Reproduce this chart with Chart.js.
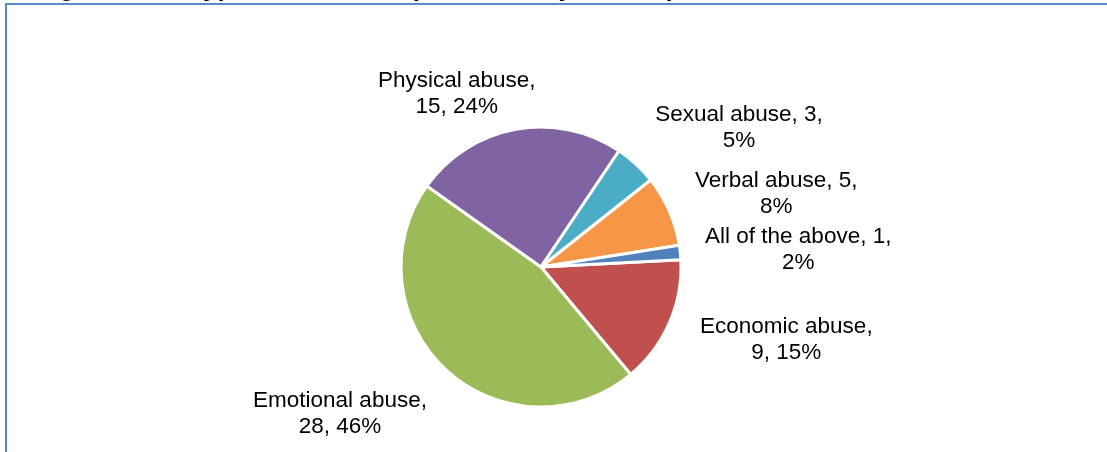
<!DOCTYPE html>
<html>
<head>
<meta charset="utf-8">
<title>Types of abuse</title>
<script src="https://cdn.jsdelivr.net/npm/chart.js@4"></script>
<style>
  html, body { margin: 0; padding: 0; background: #fff; }
  #wrap { width: 1107px; height: 452px; position: relative; }
</style>
</head>
<body>
<div id="wrap"><canvas id="abuseChart"></canvas></div>
<script>
// Abuse categories (in drawing order, clockwise from 3 o'clock)
const categories = ['Economic abuse', 'Emotional abuse', 'Physical abuse', 'Sexual abuse', 'Verbal abuse', 'All of the above'];
const counts = [9, 28, 15, 3, 5, 1];
const percents = [15, 46, 24, 5, 8, 2];

const sliceColors = ['#C0504D', '#9BBB59', '#8064A2', '#4BACC6', '#F79646', '#4F81BD'];

// how many comma parts go on the first label line
const firstLineParts = [1, 1, 1, 2, 2, 2];
// label shift from the slice's outer mid point
const labelNudge = [[117, 17], [-106, 44], [-59, -35], [103, -36], [107, -17], [118, -3]];

const labelFont = '22.5px "Liberation Sans", Arial, sans-serif';

// Data labels + frame + clipped caption
const decorPlugin = {
  id: 'decor',
  afterDraw(chart) {
    const ctx = chart.ctx;
    const arcs = chart.getDatasetMeta(0).data;

    ctx.save();
    ctx.font = labelFont;
    ctx.fillStyle = '#000';
    ctx.textAlign = 'center';
    ctx.textBaseline = 'middle';
    arcs.forEach((arc, i) => {
      const mid = (arc.startAngle + arc.endAngle) / 2;
      const x = arc.x + Math.cos(mid) * arc.outerRadius + labelNudge[i][0];
      const y = arc.y + Math.sin(mid) * arc.outerRadius + labelNudge[i][1];
      const parts = [categories[i], String(counts[i]), percents[i] + '%'];
      const n = firstLineParts[i];
      const line1 = parts.slice(0, n).join(', ') + ',';
      const line2 = parts.slice(n).join(', ');
      ctx.fillText(line1, x, y - 13);
      ctx.fillText(line2, x, y + 13);
    });

    // caption above the frame, mostly cut off by the top edge
    ctx.font = 'bold 26px "Liberation Sans", Arial, sans-serif';
    ctx.textAlign = 'left';
    ctx.textBaseline = 'alphabetic';
    ctx.fillText('Figure 4.10: Types of abuse experienced by the respondents', 36, -4);

    // chart frame
    ctx.strokeStyle = '#5B8AC6';
    ctx.lineWidth = 2;
    ctx.beginPath();
    ctx.moveTo(6, chart.height);
    ctx.lineTo(6, 4);
    ctx.lineTo(chart.width, 4);
    ctx.stroke();
    ctx.restore();
  }
};

new Chart(document.getElementById('abuseChart'), {
  type: 'pie',
  data: {
    labels: categories,
    datasets: [{
      data: counts,
      backgroundColor: sliceColors,
      borderColor: '#fff',
      borderWidth: 3,
      radius: 140
    }]
  },
  options: {
    responsive: true,
    maintainAspectRatio: false,
    animation: false,
    rotation: 87,
    layout: { padding: { top: 82, right: 25, left: 0, bottom: 0 } },
    plugins: {
      legend: { display: false },
      tooltip: { enabled: false },
      title: { display: false }
    }
  },
  plugins: [decorPlugin]
});
</script>
</body>
</html>
